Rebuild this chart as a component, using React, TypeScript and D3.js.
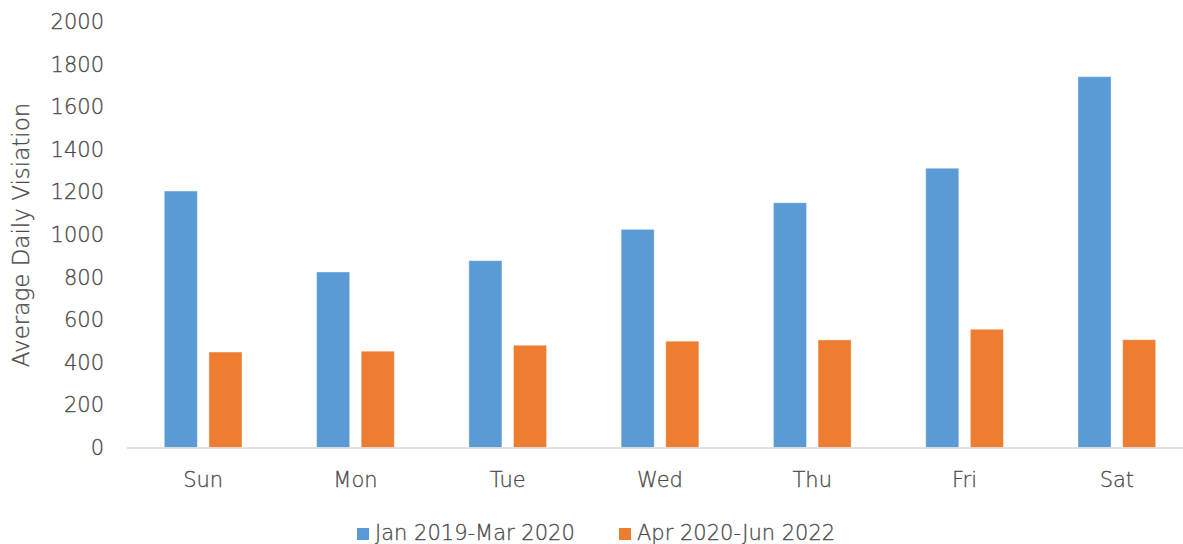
import React from "react";
import * as d3 from "d3";

const categories = ["Sun", "Mon", "Tue", "Wed", "Thu", "Fri", "Sat"];
const seriesNames = ["Jan 2019-Mar 2020", "Apr 2020-Jun 2022"];
const preCovid = [1204, 824, 877, 1024, 1149, 1311, 1741];
const postCovid = [448, 452, 480, 499, 505, 555, 506];
const yTicks = [0, 200, 400, 600, 800, 1000, 1200, 1400, 1600, 1800, 2000];
const colors = ["#5B9BD5", "#ED7D31"];

const W = 1183;
const H = 544;
const FONT = "'DejaVu Sans', sans-serif";
const TEXT = "#4a4a4a";
const FW = 300;

export default function App() {
  const left = 127;
  const right = 1193;
  const top = 21.5;
  const bottom = 447.5;

  const x0 = d3.scaleBand<string>().domain(categories).range([left, right]).paddingInner(0).paddingOuter(0);
  const bw = x0.bandwidth();
  const x1 = d3
    .scaleBand<string>()
    .domain(seriesNames)
    .range([bw * 0.245, bw * 0.755])
    .paddingInner(0.26)
    .paddingOuter(0);
  const y = d3.scaleLinear().domain([0, 2000]).range([bottom, top]);

  const series = [preCovid, postCovid];

  return (
    <svg
      width={W}
      height={H}
      style={{ position: "absolute", left: 0, top: 0, background: "#fff" }}
      fontFamily={FONT}
      fontWeight={FW}
    >
      {yTicks.map((t) => (
        <text
          key={t}
          x={104}
          y={y(t)}
          dy="0.36em"
          textAnchor="end"
          fontSize={21}
          fill={TEXT}
          stroke={TEXT}
          strokeWidth={0.3}
        >
          {t}
        </text>
      ))}
      <text
        transform={`translate(29,235) rotate(-90)`}
        textAnchor="middle"
        fontSize={23}
        fill={TEXT}
        stroke={TEXT}
        strokeWidth={0.3}
      >
        Average Daily Visiation
      </text>
      {categories.map((c, i) => (
        <g key={c} transform={`translate(${x0(c)},0)`}>
          {series.map((s, j) => (
            <rect
              key={j}
              x={x1(seriesNames[j])}
              y={y(s[i])}
              width={x1.bandwidth()}
              height={y(0) - y(s[i])}
              fill={colors[j]}
              stroke="#ffffff"
              strokeOpacity={0.35}
              strokeWidth={1}
            />
          ))}
        </g>
      ))}
      <line x1={left} x2={W} y1={bottom + 0.5} y2={bottom + 0.5} stroke="#D9D9D9" strokeWidth={1.5} />
      {categories.map((c) => (
        <text
          key={c}
          x={(x0(c) as number) + bw / 2}
          y={487}
          textAnchor="middle"
          fontSize={21}
          fill={TEXT}
          stroke={TEXT}
          strokeWidth={0.3}
        >
          {c}
        </text>
      ))}
      {seriesNames.map((n, j) => {
        const lx = [357, 619][j];
        return (
          <g key={n}>
            <rect x={lx} y={528} width={12} height={12} fill={colors[j]} />
            <text x={lx + 18} y={540} fontSize={21} fill={TEXT} stroke={TEXT} strokeWidth={0.3}>
              {n}
            </text>
          </g>
        );
      })}
    </svg>
  );
}
